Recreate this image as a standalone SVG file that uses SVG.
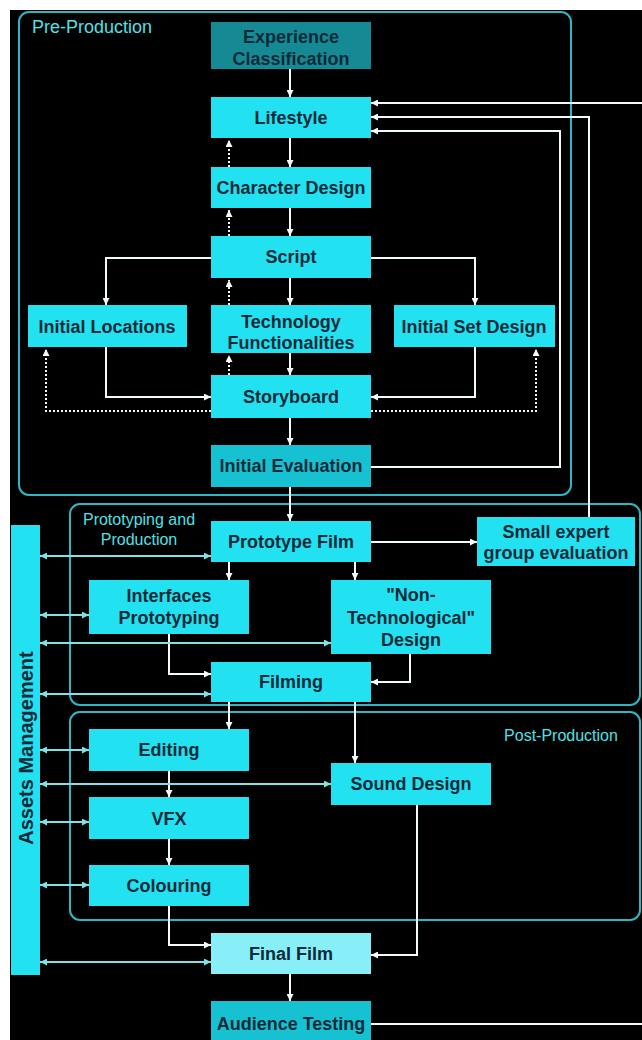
<svg xmlns="http://www.w3.org/2000/svg" width="642" height="1040" viewBox="0 0 642 1040">
<defs>
<marker id="a" viewBox="0 0 8 8" refX="8" refY="4" markerWidth="7" markerHeight="7" markerUnits="userSpaceOnUse" orient="auto"><path d="M0,0 L8,4 L0,8 z" fill="#f2fafa"/></marker>
<marker id="b" viewBox="0 0 8 8" refX="8" refY="4" markerWidth="7" markerHeight="7" markerUnits="userSpaceOnUse" orient="auto-start-reverse"><path d="M0,0 L8,4 L0,8 z" fill="#7fe2e4"/></marker>
<style>
.box{fill:#22e2f2}
.dark{fill:#158a95}
.mid{fill:#16c2d2}
.light{fill:#88eff9}
.t{font-family:"Liberation Sans",Arial,sans-serif;font-weight:bold;font-size:18px;fill:#0b2a38;text-anchor:middle}
.lab{font-family:"Liberation Sans",Arial,sans-serif;fill:#4fe0e8}
.cont{fill:none;stroke:#2bb8c4;stroke-width:2}
.c{fill:none;stroke:#f2fafa;stroke-width:2;marker-end:url(#a)}
.d{fill:none;stroke:#f2fafa;stroke-width:2;stroke-dasharray:2 2;marker-end:url(#a)}
.as{fill:none;stroke:#7fe2e4;stroke-width:2;marker-start:url(#b);marker-end:url(#b)}
</style>
</defs>
<rect x="0" y="0" width="642" height="1040" fill="#ffffff"/>
<rect x="10" y="10" width="632" height="1030" fill="#000000"/>

<g id="containers">
<rect class="cont" x="19" y="12" width="552" height="483" rx="10"/>
<text class="lab" x="32" y="33" font-size="18">Pre-Production</text>
<rect class="cont" x="70" y="504" width="570" height="201" rx="10"/>
<text class="lab" x="139" y="525" font-size="16" text-anchor="middle">Prototyping and</text>
<text class="lab" x="139" y="545" font-size="16" text-anchor="middle">Production</text>
<rect class="cont" x="70" y="712" width="570" height="208" rx="10"/>
<text class="lab" x="561" y="741" font-size="16" text-anchor="middle">Post-Production</text>
</g>

<g id="connectors">
<path class="c" d="M290,69 V97"/>
<path class="c" d="M290,138 V167"/>
<path class="c" d="M290,208 V236"/>
<path class="c" d="M290,278 V305"/>
<path class="c" d="M211,258 H106 V305"/>
<path class="c" d="M371,258 H475 V305"/>
<path class="c" d="M290,353 V375"/>
<path class="c" d="M106,347 V397 H211"/>
<path class="c" d="M475,347 V397 H371"/>
<path class="c" d="M290,418 V445"/>
<path class="c" d="M290,487 V521"/>
<path class="c" d="M371,542 H477"/>
<path class="c" d="M229,562 V580"/>
<path class="c" d="M355,562 V580"/>
<path class="c" d="M169,634 V674 H211"/>
<path class="c" d="M410,654 V682 H371"/>
<path class="c" d="M229,702 V729"/>
<path class="c" d="M355,702 V763"/>
<path class="c" d="M169,771 V797"/>
<path class="c" d="M169,839 V865"/>
<path class="c" d="M169,906 V945 H211"/>
<path class="c" d="M417,805 V955 H371"/>
<path class="c" d="M290,974 V1001"/>
<path class="c" d="M371,467 H560 V131 H371"/>
<path class="c" d="M589,517 V117 H371"/>
<path class="c" d="M371,1024 H660 V103 H371"/>
<path class="d" d="M229,167 V140"/>
<path class="d" d="M229,236 V210"/>
<path class="d" d="M229,305 V280"/>
<path class="d" d="M229,375 V355"/>
<path class="d" d="M211,411 H46 V349"/>
<path class="d" d="M371,411 H536 V349"/>
<path class="as" d="M40,556 H211"/>
<path class="as" d="M40,615 H89"/>
<path class="as" d="M40,643 H331"/>
<path class="as" d="M40,694 H211"/>
<path class="as" d="M40,750 H89"/>
<path class="as" d="M40,784 H331"/>
<path class="as" d="M40,822 H89"/>
<path class="as" d="M40,885 H89"/>
<path class="as" d="M40,962 H211"/>
</g>

<g id="experience-classification"><rect class="dark" x="211" y="22" width="160" height="47"/><text class="t" x="291" y="43">Experience</text><text class="t" x="291" y="65">Classification</text></g>
<g id="lifestyle"><rect class="box" x="211" y="97" width="160" height="41"/><text class="t" x="291" y="124">Lifestyle</text></g>
<g id="character-design"><rect class="box" x="211" y="167" width="160" height="41"/><text class="t" x="291" y="194">Character Design</text></g>
<g id="script"><rect class="box" x="211" y="236" width="160" height="42"/><text class="t" x="291" y="263">Script</text></g>
<g id="initial-locations"><rect class="box" x="28" y="305" width="159" height="42"/><text class="t" x="107" y="333">Initial Locations</text></g>
<g id="technology-functionalities"><rect class="box" x="211" y="305" width="160" height="48"/><text class="t" x="291" y="328">Technology</text><text class="t" x="291" y="349">Functionalities</text></g>
<g id="initial-set-design"><rect class="box" x="394" y="305" width="161" height="42"/><text class="t" x="474" y="333">Initial Set Design</text></g>
<g id="storyboard"><rect class="box" x="211" y="375" width="160" height="43"/><text class="t" x="291" y="403">Storyboard</text></g>
<g id="initial-evaluation"><rect class="mid" x="211" y="445" width="160" height="42"/><text class="t" x="291" y="472">Initial Evaluation</text></g>
<g id="prototype-film"><rect class="box" x="211" y="521" width="160" height="41"/><text class="t" x="291" y="548">Prototype Film</text></g>
<g id="small-expert-group-evaluation"><rect class="box" x="477" y="517" width="158" height="49"/><text class="t" x="556" y="538">Small expert</text><text class="t" x="556" y="559">group evaluation</text></g>
<g id="interfaces-prototyping"><rect class="box" x="89" y="580" width="160" height="54"/><text class="t" x="169" y="602">Interfaces</text><text class="t" x="169" y="624">Prototyping</text></g>
<g id="non-technological-design"><rect class="box" x="331" y="580" width="160" height="74"/><text class="t" x="411" y="601">"Non-</text><text class="t" x="411" y="624">Technological"</text><text class="t" x="411" y="646">Design</text></g>
<g id="filming"><rect class="box" x="211" y="662" width="160" height="40"/><text class="t" x="291" y="688">Filming</text></g>
<g id="editing"><rect class="box" x="89" y="729" width="160" height="42"/><text class="t" x="169" y="756">Editing</text></g>
<g id="sound-design"><rect class="box" x="331" y="763" width="160" height="42"/><text class="t" x="411" y="790">Sound Design</text></g>
<g id="vfx"><rect class="box" x="89" y="797" width="160" height="42"/><text class="t" x="169" y="825">VFX</text></g>
<g id="colouring"><rect class="box" x="89" y="865" width="160" height="41"/><text class="t" x="169" y="892">Colouring</text></g>
<g id="final-film"><rect class="light" x="211" y="933" width="160" height="41"/><text class="t" x="291" y="960">Final Film</text></g>
<g id="audience-testing"><rect class="mid" x="211" y="1001" width="160" height="44"/><text class="t" x="291" y="1030">Audience Testing</text></g>
<g id="assets-management"><rect class="box" x="11" y="525" width="29" height="450"/><text class="t" style="font-size:20px" transform="translate(33,748) rotate(-90)" x="0" y="0">Assets Management</text></g>
</svg>
